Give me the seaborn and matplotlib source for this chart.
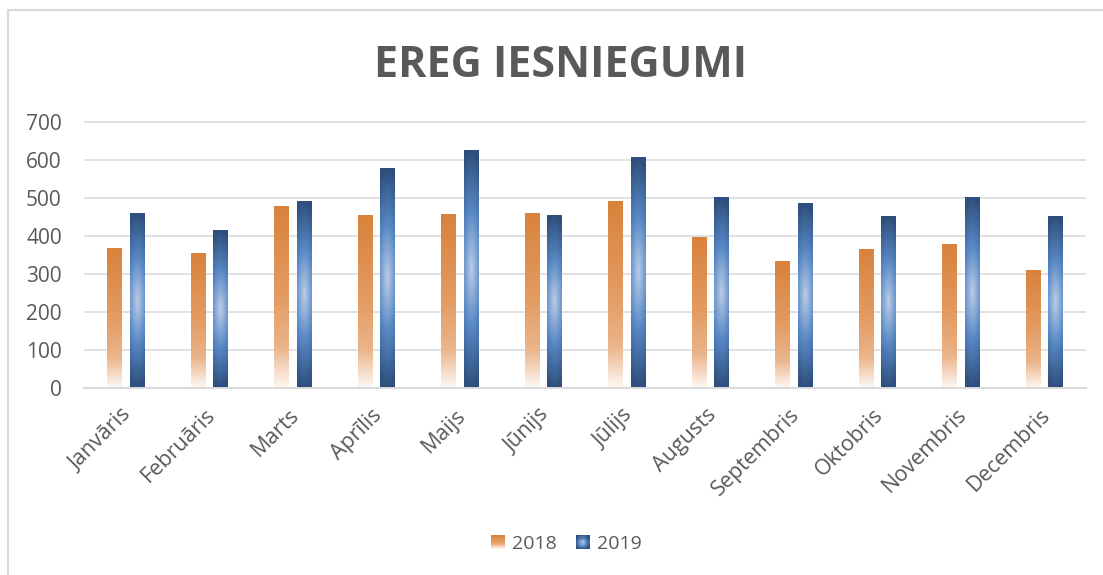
import numpy as np
import pandas as pd
import matplotlib
matplotlib.use("Agg")
import matplotlib.pyplot as plt
import matplotlib.transforms as mtransforms
import seaborn as sns
from matplotlib.colors import LinearSegmentedColormap, to_rgb
from matplotlib.patches import Rectangle
from matplotlib.lines import Line2D
from matplotlib.legend_handler import HandlerBase

# ---- data ----
months = ["Janvāris", "Februāris", "Marts", "Aprīlis", "Maijs", "Jūnijs",
          "Jūlijs", "Augusts", "Septembris", "Oktobris", "Novembris", "Decembris"]
years = ["2018", "2019"]
values_2018 = [366, 353, 476, 452, 455, 458, 489, 395, 332, 363, 376, 308]
values_2019 = [458, 413, 489, 576, 623, 452, 605, 500, 484, 450, 500, 450]
yticks = [0, 100, 200, 300, 400, 500, 600, 700]
title = "EREG IESNIEGUMI"

ORANGE = "#D9823C"
BLUE = "#2F507D"
GRAY_TXT = "#595959"
GRID = "#D9D9D9"

orange_cmap = LinearSegmentedColormap.from_list(
    "og", [(0, "#D9823C"), (0.5, "#E39C63"), (0.78, "#EBB48A"), (1.0, "#FDF8F4")])
blue_cmap = LinearSegmentedColormap.from_list(
    "bg", [(0, "#BACDE7"), (0.5, "#5787C4"), (1.0, "#2E4F7C")])


def orange_grad(n=200, m=4):
    s = np.linspace(0, 1, n)[:, None] * np.ones((1, m))
    return orange_cmap(s)


def blue_grad(n=200, m=24):
    dy = np.linspace(-1, 1, n)[:, None]
    dx = np.linspace(-1, 1, m)[None, :]
    t = np.clip(np.sqrt(dy ** 2 + 0.15 * dx ** 2), 0, 1)
    return blue_cmap(t)


sns.set_theme(style="white")
plt.rcParams["font.family"] = ["Open Sans", "DejaVu Sans"]

df = pd.DataFrame({
    "month": months * 2,
    "year": [years[0]] * len(months) + [years[1]] * len(months),
    "value": values_2018 + values_2019,
})

W, H = 1103, 575
fig = plt.figure(figsize=(W / 100, H / 100), dpi=100)
ymax = 705
y0_px, y700_px = 388.3, 121.7
ax_h = (y0_px - y700_px) * ymax / 700
ax = fig.add_axes([84 / W, 1 - y0_px / H, 1002 / W, ax_h / H])

sns.barplot(data=df, x="month", y="value", hue="year",
            palette=[ORANGE, BLUE], width=0.536, gap=0.35,
            saturation=1, errorbar=None, legend=False, ax=ax)

# gradient fills on top of the bars drawn by seaborn
for p in list(ax.patches):
    x0, y0 = p.get_x(), p.get_y()
    w, h = p.get_width(), p.get_height()
    if h <= 0:
        continue
    fc = np.array(p.get_facecolor()[:3])
    is_orange = np.allclose(fc, to_rgb(ORANGE), atol=0.05)
    img = orange_grad() if is_orange else blue_grad()
    ax.imshow(img, extent=[x0, x0 + w, y0, y0 + h], origin="upper",
              aspect="auto", zorder=p.get_zorder() + 0.1, interpolation="bilinear")
    p.set_facecolor("none")
    p.set_edgecolor("none")

ax.set_xlim(-0.5, len(months) - 0.5)
ax.set_ylim(0, ymax)
ax.set_yticks(yticks)
ax.set_xlabel("")
ax.set_ylabel("")
ax.yaxis.grid(True, color=GRID, lw=1.1)
ax.set_axisbelow(True)
for s in ["top", "right", "left"]:
    ax.spines[s].set_visible(False)
ax.spines["bottom"].set_color(GRID)
ax.spines["bottom"].set_linewidth(1.4)
ax.tick_params(axis="y", length=0, pad=16, labelsize=15, labelcolor=GRAY_TXT)
ax.tick_params(axis="x", length=0, pad=17, labelsize=15.5, labelcolor=GRAY_TXT)
shift = mtransforms.ScaledTranslation(0.03, 0, fig.dpi_scale_trans)
for lbl in ax.get_xticklabels():
    lbl.set_rotation(45)
    lbl.set_ha("right")
    lbl.set_va("center")
    lbl.set_rotation_mode("anchor")
    lbl.set_transform(lbl.get_transform() + shift)

fig.text(561 / W, 1 - 77 / H, title, ha="center", va="baseline",
         fontsize=31, fontweight="bold", color=GRAY_TXT)

# chart frame (light gray, left and top visible)
fig.add_artist(Line2D([7.5 / W, 7.5 / W], [0, 1 - 9.5 / H], transform=fig.transFigure,
                      color=GRID, lw=1.5))
fig.add_artist(Line2D([7.5 / W, 1], [1 - 9.5 / H, 1 - 9.5 / H], transform=fig.transFigure,
                      color=GRID, lw=1.5))


class GradHandler(HandlerBase):
    def __init__(self, kind):
        super().__init__()
        self.kind = kind

    def create_artists(self, legend, orig_handle, xdescent, ydescent, width, height,
                       fontsize, trans):
        arts = []
        n = 12
        if self.kind == "orange":
            img = orange_grad(n, 1)
            for i in range(n):
                arts.append(Rectangle((-xdescent, -ydescent + height * (n - 1 - i) / n),
                                      width, height / n + 0.3, facecolor=img[i, 0],
                                      edgecolor="none", transform=trans))
        else:
            yy = np.linspace(-1, 1, n)
            for i in range(n):
                for j in range(n):
                    t = min(1.0, np.sqrt(yy[i] ** 2 + yy[j] ** 2) * 0.85)
                    arts.append(Rectangle((-xdescent + width * j / n, -ydescent + height * i / n),
                                          width / n + 0.3, height / n + 0.3,
                                          facecolor=blue_cmap(t), edgecolor="none",
                                          transform=trans))
        return arts


h1 = Rectangle((0, 0), 1, 1, facecolor=ORANGE)
h2 = Rectangle((0, 0), 1, 1, facecolor=BLUE)
fig.legend([h1, h2], years, loc="center", bbox_to_anchor=(566 / W, 1 - 544 / H),
           ncol=2, frameon=False, fontsize=14, labelcolor=GRAY_TXT,
           handlelength=0.72, handleheight=0.72, handletextpad=0.36, columnspacing=1.0,
           handler_map={h1: GradHandler("orange"), h2: GradHandler("blue")})

fig.savefig("out.png", dpi=100, facecolor="white")
